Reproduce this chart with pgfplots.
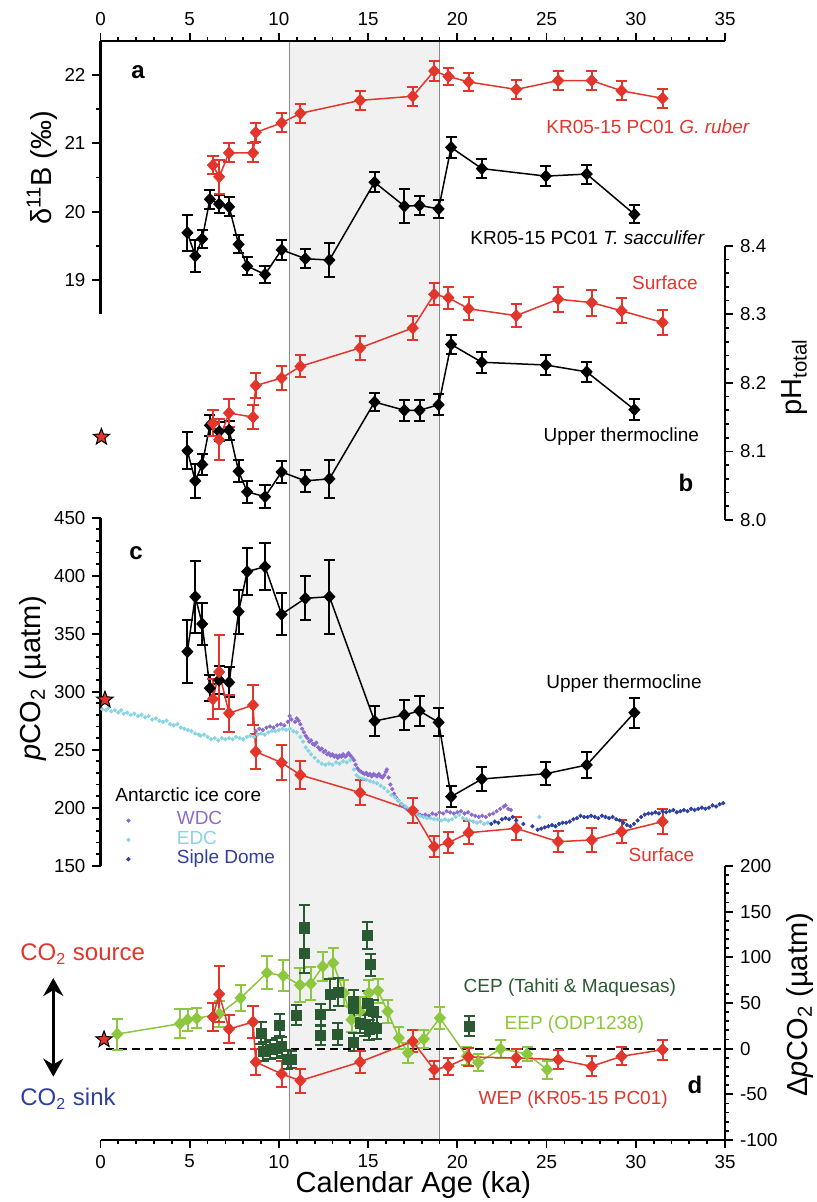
\documentclass[border=0pt]{standalone}
\usepackage{pgfplots}
\pgfplotsset{compat=1.18}
\usepackage{fontspec}
\setmainfont{Liberation Sans}
\usetikzlibrary{arrows.meta}

\definecolor{cred}{HTML}{E2352B}
\definecolor{ceep}{HTML}{8DC63F}
\definecolor{ccep}{HTML}{2A5A32}
\definecolor{cwdc}{HTML}{8A6CCF}
\definecolor{cedc}{HTML}{88D4E2}
\definecolor{csip}{HTML}{2E3F9E}
\definecolor{cband}{HTML}{F1F1F1}
\definecolor{cbandline}{HTML}{8A8A8A}

\pgfdeclareplotmark{fstar}{%
 \pgfpathmoveto{\pgfpointpolar{90}{\pgfplotmarksize}}%
 \pgfpathlineto{\pgfpointpolar{126}{0.42\pgfplotmarksize}}%
 \pgfpathlineto{\pgfpointpolar{162}{\pgfplotmarksize}}%
 \pgfpathlineto{\pgfpointpolar{198}{0.42\pgfplotmarksize}}%
 \pgfpathlineto{\pgfpointpolar{234}{\pgfplotmarksize}}%
 \pgfpathlineto{\pgfpointpolar{270}{0.42\pgfplotmarksize}}%
 \pgfpathlineto{\pgfpointpolar{306}{\pgfplotmarksize}}%
 \pgfpathlineto{\pgfpointpolar{342}{0.42\pgfplotmarksize}}%
 \pgfpathlineto{\pgfpointpolar{18}{\pgfplotmarksize}}%
 \pgfpathlineto{\pgfpointpolar{54}{0.42\pgfplotmarksize}}%
 \pgfpathclose\pgfusepathqfillstroke}

\newcommand{\sm}{\fontsize{9.5}{11}\selectfont}

\pgfplotsset{
 base/.style={scale only axis, width=312.25pt, xmin=0, xmax=35, clip=false,
   anchor=south west,
   axis line style={line width=1.1pt, black},
   tick style={line width=0.9pt, black},
   major tick length=4pt, minor tick length=2.2pt, tick align=outside,
   tick label style={font=\fontsize{9.4}{10}\selectfont},
   label style={font=\fontsize{14.5}{16}\selectfont}},
 ser/.style={#1, line width=0.75pt, mark=diamond*, mark size=2.7pt,
   mark options={solid, xscale=1.25, fill=#1, draw=#1},
   error bars/.cd, y dir=both, y explicit, error mark=|,
   error bar style={line width=1pt, #1},
   error mark options={#1, mark size=2.8pt, line width=1pt}},
 sq/.style={#1, only marks, mark=square*, mark size=2.5pt,
   mark options={solid, fill=#1, draw=#1},
   error bars/.cd, y dir=both, y explicit, error mark=|,
   error bar style={line width=1pt, #1},
   error mark options={#1, mark size=2.8pt, line width=1pt}},
 dots/.style={#1, only marks, mark=*, mark size=0.85pt, mark options={draw=none, fill=#1},
   legend image code/.code={\path (0pt,0pt) (25pt,0pt); \draw[##1] plot coordinates {(1pt,0pt)};}},
 starp/.style={only marks, mark=fstar, mark size=4.3pt, mark options={fill=cred, draw=black, line width=0.5pt}},
}

\begin{document}
\begin{tikzpicture}
% ---------- background band ----------
\begin{axis}[base, at={(50.25pt,31pt)}, height=549.5pt, ymin=0, ymax=1, hide axis]
 \fill[cband] (axis cs:10.6,0) rectangle (axis cs:19.0,1);
 \draw[cbandline, line width=0.6pt] (axis cs:10.6,0) -- (axis cs:10.6,1);
 \draw[cbandline, line width=0.6pt] (axis cs:19.0,0) -- (axis cs:19.0,1);
\end{axis}

% ---------- panel a ----------
\begin{axis}[base, at={(50.25pt,444pt)}, height=136.5pt, ymin=18.5, ymax=22.5,
  axis x line*=top, axis y line*=left,
  xtick={0,5,...,35}, xticklabels={0,5,10,15,20,25,30,35}, minor x tick num=4,
  ytick={19,20,21,22}, yticklabels={19,20,21,22}, minor y tick num=1,
  ylabel={δ\textsuperscript{11}B (‰)},
  ylabel style={at={(axis description cs:-0.0937,0.535)}, anchor=center}]
\addplot+[ser=black] coordinates {
 (4.87,19.69) +- (0,0.26) (5.31,19.35) +- (0,0.24) (5.7,19.60) +- (0,0.13)
 (6.13,20.18) +- (0,0.14) (6.65,20.11) +- (0,0.13) (7.21,20.07) +- (0,0.14)
 (7.74,19.52) +- (0,0.13) (8.22,19.20) +- (0,0.13) (9.22,19.08) +- (0,0.13)
 (10.15,19.44) +- (0,0.15) (11.48,19.31) +- (0,0.14) (12.83,19.29) +- (0,0.25)
 (15.36,20.43) +- (0,0.15) (17.03,20.08) +- (0,0.25) (17.88,20.09) +- (0,0.14)
 (18.95,20.04) +- (0,0.13) (19.65,20.94) +- (0,0.15) (21.37,20.63) +- (0,0.14)
 (24.96,20.52) +- (0,0.15) (27.25,20.55) +- (0,0.14) (29.92,19.96) +- (0,0.13)};
\addplot+[ser=cred] coordinates {
 (6.3,20.68) +- (0,0.13) (6.65,20.51) +- (0,0.25) (7.2,20.86) +- (0,0.14)
 (8.55,20.86) +- (0,0.14) (8.7,21.16) +- (0,0.14) (10.15,21.30) +- (0,0.14)
 (11.2,21.44) +- (0,0.14) (14.55,21.63) +- (0,0.14) (17.5,21.69) +- (0,0.14)
 (18.7,22.06) +- (0,0.14) (19.5,21.98) +- (0,0.13) (20.63,21.90) +- (0,0.13)
 (23.3,21.79) +- (0,0.14) (25.65,21.92) +- (0,0.14) (27.53,21.92) +- (0,0.14)
 (29.2,21.77) +- (0,0.14) (31.5,21.66) +- (0,0.14)};
\end{axis}

% ---------- panel b ----------
\begin{axis}[base, at={(50.25pt,341pt)}, height=137.15pt, ymin=8.0, ymax=8.4,
  axis y line*=right, axis x line=none,
  ytick={8.0,8.1,8.2,8.3,8.4}, yticklabels={8.0,8.1,8.2,8.3,8.4}, minor y tick num=4,
  ylabel={pH\textsubscript{total}},
  ylabel style={at={(axis description cs:1.112,0.521)}, anchor=center}]
\addplot+[ser=black] coordinates {
 (4.87,8.101) +- (0,0.027) (5.31,8.057) +- (0,0.025) (5.7,8.081) +- (0,0.015)
 (6.13,8.138) +- (0,0.015) (6.65,8.129) +- (0,0.014) (7.21,8.131) +- (0,0.014)
 (7.74,8.071) +- (0,0.016) (8.22,8.041) +- (0,0.016) (9.22,8.034) +- (0,0.017)
 (10.15,8.070) +- (0,0.016) (11.48,8.057) +- (0,0.016) (12.83,8.060) +- (0,0.028)
 (15.36,8.172) +- (0,0.013) (17.03,8.160) +- (0,0.015) (17.88,8.160) +- (0,0.015)
 (18.95,8.168) +- (0,0.015) (19.65,8.256) +- (0,0.014) (21.37,8.230) +- (0,0.015)
 (24.96,8.226) +- (0,0.015) (27.25,8.216) +- (0,0.015) (29.92,8.161) +- (0,0.015)};
\addplot+[ser=cred] coordinates {
 (6.3,8.141) +- (0,0.019) (6.65,8.117) +- (0,0.030) (7.2,8.156) +- (0,0.020)
 (8.55,8.150) +- (0,0.018) (8.7,8.196) +- (0,0.018) (10.15,8.207) +- (0,0.018)
 (11.2,8.224) +- (0,0.016) (14.55,8.251) +- (0,0.017) (17.5,8.280) +- (0,0.017)
 (18.7,8.329) +- (0,0.016) (19.5,8.324) +- (0,0.016) (20.63,8.308) +- (0,0.017)
 (23.3,8.298) +- (0,0.017) (25.65,8.322) +- (0,0.018) (27.53,8.317) +- (0,0.019)
 (29.2,8.305) +- (0,0.018) (31.5,8.288) +- (0,0.018)};
\addplot[starp] coordinates {(0.05,8.121)};
\end{axis}

% ---------- panel c ----------
\begin{axis}[base, at={(50.25pt,168.15pt)}, height=174pt, ymin=150, ymax=450,
  axis y line*=left, axis x line=none,
  ytick={150,200,...,450}, yticklabels={150,200,250,300,350,400,450}, minor y tick num=4,
  ylabel={\textit{p}CO\textsubscript{2} (µatm)},
  ylabel style={at={(axis description cs:-0.108,0.539)}, anchor=center},
  legend style={at={(axis description cs:0.0409,0.1573)}, anchor=north west,
    draw=none, fill=none, inner sep=0pt, outer sep=0pt,
    font=\fontsize{9.5}{9.6}\selectfont, row sep=0pt,
    nodes={inner sep=0pt, text height=7pt, text depth=2.65pt}},
  legend cell align=left]
\addplot[dots=cwdc] coordinates {
 (8.7,266) (8.9,268) (9.1,267) (9.3,269) (9.5,270) (9.7,269) (9.9,271) (10.1,272) (10.3,271)
 (10.5,274) (10.6,279) (10.7,276) (10.9,274) (11.0,277) (11.1,275) (11.2,272) (11.3,268)
 (11.4,265) (11.5,262) (11.6,260) (11.7,257) (11.8,258) (11.9,255) (12.0,254) (12.1,256)
 (12.2,252) (12.3,250) (12.4,251) (12.5,248) (12.6,249) (12.7,246) (12.8,247) (12.9,245)
 (13.0,246) (13.1,244) (13.2,245) (13.3,243) (13.4,245) (13.5,244) (13.6,246) (13.7,244)
 (13.8,245) (13.9,247) (14.0,245) (14.1,243) (14.2,241) (14.3,237) (14.4,234) (14.5,232)
 (14.6,231) (14.7,230) (14.8,229) (14.9,230) (15.0,228) (15.1,229) (15.2,227) (15.3,229)
 (15.4,228) (15.5,227) (15.6,229) (15.7,227) (15.8,226) (15.9,228) (16.0,231) (16.05,233)
 (16.15,226) (16.25,220) (16.35,216) (16.45,212) (16.55,209) (16.7,206) (16.85,203)
 (17.0,201) (17.15,199) (17.3,198) (17.45,197) (17.6,196) (17.75,195) (17.9,194)
 (18.05,193) (18.2,194) (18.4,193) (18.6,195) (18.8,194) (19.0,196) (19.2,195) (19.4,197)
 (19.6,196) (19.8,195) (20.0,196) (20.2,197) (20.4,195) (20.6,196) (20.8,194) (21.0,193)
 (21.2,192) (21.4,193) (21.6,192) (21.8,194) (22.0,195) (22.2,197) (22.4,199) (22.6,201)
 (22.7,202) (22.85,199) (23.0,198)};
\addlegendentry{\textcolor{cwdc}{WDC}}
\addplot[dots=cedc] coordinates {
 (0.1,285) (0.3,284) (0.45,286) (0.6,283) (0.8,284) (1.0,282) (1.15,284) (1.3,281) (1.5,282)
 (1.7,280) (1.9,281) (2.1,279) (2.3,280) (2.5,278) (2.7,279) (2.9,276) (3.1,277) (3.3,275)
 (3.5,274) (3.7,275) (3.9,272) (4.1,271) (4.3,272) (4.5,269) (4.7,268) (4.9,267) (5.1,266)
 (5.3,264) (5.5,263) (5.6,262) (5.8,263) (6.0,261) (6.2,259) (6.4,260) (6.6,258) (6.8,260)
 (7.0,259) (7.2,260) (7.4,259) (7.6,261) (7.8,260) (8.0,259) (8.2,261) (8.4,262) (8.6,261)
 (8.8,263) (9.0,264) (9.2,263) (9.4,265) (9.6,266) (9.8,266) (10.0,267) (10.2,268)
 (10.4,267) (10.6,268) (10.8,266) (11.0,265) (11.2,261) (11.35,257) (11.5,252) (11.65,249)
 (11.8,246) (12.0,243) (12.2,240) (12.4,238) (12.6,237) (12.8,238) (13.0,237) (13.2,239)
 (13.4,238) (13.6,240) (13.8,239) (14.0,241) (14.2,233) (14.35,228) (14.5,226) (14.7,225)
 (14.9,224) (15.1,223) (15.3,222) (15.5,221) (15.7,219) (15.9,217) (16.1,214) (16.3,211)
 (16.5,209) (16.7,206) (16.9,203) (17.1,201) (17.3,199) (17.5,197) (17.7,195) (17.9,193)
 (18.1,192) (18.3,191) (18.5,191) (18.7,190) (18.9,190) (19.1,189) (19.3,190) (19.5,189)
 (19.7,190) (19.9,192) (20.1,194) (20.3,191) (20.5,190) (20.7,189) (20.9,188) (21.1,187)
 (21.3,188) (21.5,186) (21.7,187) (24.6,192)};
\addlegendentry{\textcolor{cedc}{EDC}}
\addplot[dots=csip] coordinates {
 (21.9,186) (22.1,188) (22.3,187) (22.5,190) (22.7,191) (22.9,190) (23.1,192) (23.3,189)
 (23.7,186) (24.2,184) (24.5,181) (24.7,182) (24.9,183) (25.1,184) (25.3,185) (25.5,184)
 (25.7,186) (25.9,187) (26.1,187) (26.3,188) (26.5,190) (26.7,191) (26.9,193) (27.1,192)
 (27.3,192) (27.5,193) (27.7,192) (27.9,191) (28.1,193) (28.3,192) (28.5,191) (28.7,192)
 (28.9,190) (29.1,189) (29.3,187) (29.5,185) (29.7,184) (29.9,186) (30.1,189) (30.3,192)
 (30.5,194) (30.7,195) (30.9,195) (31.1,196) (31.3,195) (31.5,197) (31.7,196) (31.9,197)
 (32.1,198) (32.3,196) (32.5,197) (32.7,198) (32.9,197) (33.1,199) (33.3,198) (33.5,199)
 (33.7,200) (33.9,199) (34.1,200) (34.3,202) (34.5,201) (34.7,203) (34.9,204)};
\addlegendentry{\textcolor{csip}{Siple Dome}}
\addplot+[forget plot, ser=black] coordinates {
 (4.87,334.5) +- (0,27) (5.31,381.9) +- (0,31) (5.7,358.4) +- (0,18)
 (6.13,303) +- (0,11) (6.65,310) +- (0,12) (7.21,308) +- (0,13)
 (7.74,369) +- (0,19) (8.22,403.5) +- (0,20) (9.22,407.8) +- (0,20)
 (10.15,366.7) +- (0,18) (11.48,380.5) +- (0,19) (12.83,381.9) +- (0,32)
 (15.36,274.7) +- (0,13) (17.03,280) +- (0,13) (17.88,283.4) +- (0,13)
 (18.95,273.6) +- (0,12) (19.65,209.5) +- (0,9) (21.37,224.7) +- (0,10)
 (24.96,229.3) +- (0,10) (27.25,236.8) +- (0,11) (29.92,281.9) +- (0,13)};
\addplot+[forget plot, ser=cred] coordinates {
 (6.3,293.7) +- (0,17) (6.65,317) +- (0,32) (7.2,281.4) +- (0,16)
 (8.55,288.5) +- (0,17) (8.7,248.3) +- (0,15) (10.15,238.8) +- (0,15)
 (11.2,228.2) +- (0,12) (14.55,213) +- (0,11) (17.5,197.4) +- (0,11)
 (18.7,166.4) +- (0,9) (19.5,169.8) +- (0,9) (20.63,178.4) +- (0,10)
 (23.3,182.2) +- (0,10) (25.65,170.7) +- (0,9) (27.53,172.2) +- (0,10)
 (29.2,179.3) +- (0,10) (31.5,188) +- (0,11)};
\addplot[forget plot, starp] coordinates {(0.25,293)};
\end{axis}

% ---------- panel d ----------
\begin{axis}[base, at={(50.25pt,31pt)}, height=137pt, ymin=-100, ymax=200,
  axis y line*=right, axis x line*=bottom,
  xtick={0,5,...,35}, xticklabels={0,5,10,15,20,25,30,35}, minor x tick num=4,
  ytick={-100,-50,...,200}, yticklabels={-100,-50,0,50,100,150,200}, minor y tick num=4,
  xlabel={Calendar Age (ka)},
  xlabel style={at={(axis description cs:0.501,-0.164)}, anchor=center},
  ylabel={Δ\textit{p}CO\textsubscript{2} (µatm)},
  ylabel style={at={(axis description cs:1.12,0.493)}, anchor=center}]
\addplot[black, line width=1.1pt, dash pattern=on 4pt off 2.6pt] coordinates {(0.3,0) (35,0)};
\addplot+[ser=ceep] coordinates {
 (0.94,16) +- (0,17) (4.45,27.3) +- (0,16) (4.88,31.7) +- (0,12) (5.39,33.2) +- (0,11)
 (6.66,38) +- (0,14) (7.85,55.5) +- (0,14) (9.33,83) +- (0,18) (10.24,79.9) +- (0,17)
 (11.18,69.7) +- (0,19) (11.79,71.1) +- (0,18) (12.45,90) +- (0,16) (13.04,93.8) +- (0,16)
 (13.64,60.9) +- (0,14) (14.07,31.7) +- (0,14) (14.54,40.8) +- (0,16) (15.04,60.9) +- (0,14)
 (15.55,63.5) +- (0,13) (16.09,40.8) +- (0,13) (16.72,11.7) +- (0,12) (17.23,-4.7) +- (0,11)
 (18.12,10.6) +- (0,10) (19.02,33.6) +- (0,12) (20.53,-8.4) +- (0,10) (21.17,-15.3) +- (0,9)
 (22.42,-0.3) +- (0,10) (23.91,-5.8) +- (0,8) (25.03,-23) +- (0,10)};
\addplot+[sq=ccep] coordinates {
 (8.99,17) +- (0,12) (9.12,-3) +- (0,10) (9.5,-1) +- (0,10) (9.87,0.8) +- (0,11)
 (10.04,25.9) +- (0,12) (10.15,2.5) +- (0,10) (10.5,-12) +- (0,10) (10.7,-12) +- (0,9)
 (10.97,36.6) +- (0,11) (11.42,132.7) +- (0,25) (11.42,104.7) +- (0,22)
 (12.35,37.2) +- (0,12) (12.35,14.6) +- (0,11) (12.86,59.8) +- (0,17) (13.29,16) +- (0,12)
 (13.32,62) +- (0,15) (14.2,51.7) +- (0,12) (14.2,44.5) +- (0,11) (14.2,7.3) +- (0,10)
 (14.54,28.1) +- (0,11) (14.95,123.6) +- (0,15) (15.14,91.9) +- (0,12) (14.95,50) +- (0,13)
 (14.82,26.3) +- (0,12) (15.28,40.8) +- (0,13) (15.47,22.6) +- (0,12) (15.05,20.8) +- (0,11)
 (20.66,24.4) +- (0,11)};
\addplot+[ser=cred] coordinates {
 (6.3,34.7) +- (0,15) (6.65,59.8) +- (0,31) (7.2,21.5) +- (0,15)
 (8.55,29.2) +- (0,17) (8.7,-14.6) +- (0,14) (10.15,-27.7) +- (0,14)
 (11.2,-35) +- (0,13) (14.55,-14.6) +- (0,12) (17.5,8) +- (0,12)
 (18.7,-23) +- (0,10) (19.5,-19.3) +- (0,9) (20.63,-9.1) +- (0,10)
 (23.3,-10.2) +- (0,10) (25.65,-12) +- (0,10) (27.53,-19.3) +- (0,11)
 (29.2,-8.4) +- (0,10) (31.5,-1.1) +- (0,11)};
\addplot[starp] coordinates {(0.2,10)};
\end{axis}

% ---------- annotations (pixel coordinates) ----------
\begin{scope}[x=0.5pt, y=-0.5pt, shift={(0pt,601pt)}]
 \node[anchor=base west, font=\sm, text=cred, inner sep=0pt] at (546,133.5) {KR05-15 PC01 \textit{G. ruber}};
 \node[anchor=base west, font=\sm, inner sep=0pt] at (470,245) {KR05-15 PC01 \textit{T. sacculifer}};
 \node[anchor=base west, font=\sm, text=cred, inner sep=0pt] at (631.7,289.3) {Surface};
 \node[anchor=base west, font=\sm, inner sep=0pt] at (543.3,441.7) {Upper thermocline};
 \node[anchor=base west, font=\sm, inner sep=0pt] at (546,688.3) {Upper thermocline};
 \node[anchor=base west, font=\sm, text=cred, inner sep=0pt] at (628.3,861.7) {Surface};
 \node[anchor=base west, font=\sm, inner sep=0pt] at (115,801.7) {Antarctic ice core};
 \node[anchor=base west, font=\sm, text=ccep, inner sep=0pt] at (463.3,992.3) {CEP (Tahiti \& Maquesas)};
 \node[anchor=base west, font=\sm, text=ceep, inner sep=0pt] at (504.3,1030) {EEP (ODP1238)};
 \node[anchor=base west, font=\sm, text=cred, inner sep=0pt] at (478.3,1105) {WEP (KR05-15 PC01)};
 \node[anchor=base west, font=\fontsize{12}{14}\selectfont, text=cred, inner sep=0pt] at (20,960.7) {CO\textsubscript{2} source};
 \node[anchor=base west, font=\fontsize{12}{14}\selectfont, text=csip, inner sep=0pt] at (20,1106) {CO\textsubscript{2} sink};
 \draw[line width=1.6pt, {Stealth[length=9pt,width=10pt]}-{Stealth[length=9pt,width=10pt]}] (53.3,978) -- (53.3,1076.7);
 \node[font=\fontsize{12}{14}\selectfont\bfseries, inner sep=0pt] at (138,72) {a};
 \node[font=\fontsize{12}{14}\selectfont\bfseries, inner sep=0pt] at (686,483) {b};
 \node[font=\fontsize{12}{14}\selectfont\bfseries, inner sep=0pt] at (136,552.7) {c};
 \node[font=\fontsize{12}{14}\selectfont\bfseries, inner sep=0pt] at (695,1085) {d};
\end{scope}
\pgfresetboundingbox
\path[use as bounding box] (0pt,0pt) rectangle (408.5pt,601pt);
\end{tikzpicture}
\end{document}
